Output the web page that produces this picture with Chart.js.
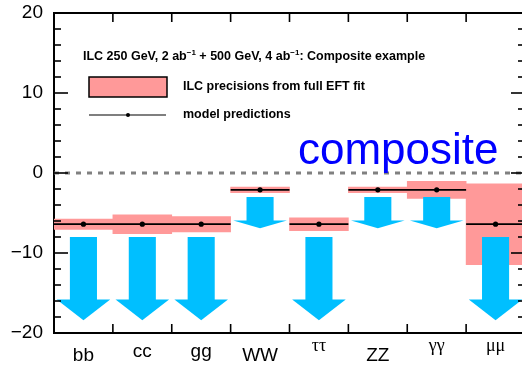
<!DOCTYPE html>
<html>
<head>
<meta charset="utf-8">
<title>ILC Higgs couplings – composite example</title>
<style>
  html, body { margin: 0; padding: 0; overflow: hidden; background: #ffffff; }
  #frame { width: 530px; height: 365px; }
</style>
<script src="https://cdn.jsdelivr.net/npm/chart.js"></script>
</head>
<body>
<div id="frame"><canvas id="chart" width="530" height="365"></canvas></div>
<script>
// Higgs decay channels along the horizontal axis
const categories = ['bb', 'cc', 'gg', 'WW', 'ττ', 'ZZ', 'γγ', 'μμ'];
// model predictions for the coupling deviation (%)
const modelPrediction = [-6.4, -6.4, -6.4, -2.1, -6.4, -2.1, -2.1, -6.4];
// ILC precision from the full EFT fit (half-height of each band, %)
const ilcPrecision = [0.65, 1.18, 0.95, 0.35, 0.8, 0.35, 1.07, 5.05];
// downward arrows: start value and tip value (%)
const arrowStart = [-8, -8, -8, -3, -8, -3, -3, -8];
const arrowTip = [-18.4, -18.4, -18.4, -6.9, -18.4, -6.9, -6.9, -18.4];
// vertical axis range and labelled tick step
const yMin = -20, yMax = 20, yStep = 10;
// header (text, superscript?), legend entries and tag
const headerParts = [
  ['ILC 250 GeV, 2 ab', false], ['\u22121', true],
  [' + 500 GeV, 4 ab', false], ['\u22121', true],
  [': Composite example', false]
];
const legendLabels = ['ILC precisions from full EFT fit', 'model predictions'];
const tagText = 'composite';

// ---- styling ----
const SANS = "'Liberation Sans', Arial, Helvetica, sans-serif";
const SERIF = "'Liberation Serif', 'Times New Roman', serif";
const BAND = '#ff9999';
const ARROW = '#00bfff';
const SHAFT_HALF = 0.23;   // arrow shaft half-width, in category units
const HEAD_HALF = 0.455;   // arrow head half-width, in category units
const HEAD_FRACTION = 0.25;

// ---- datasets built from the arrays above ----
const bandData = modelPrediction.map((v, i) => [v - ilcPrecision[i], v + ilcPrecision[i]]);

const predictionSegments = [];
modelPrediction.forEach((v, i) => {
  predictionSegments.push({x: i, y: v}, {x: i + 1, y: v}, {x: i + 1, y: null});
});
const predictionDots = modelPrediction.map((v, i) => ({x: i + 0.5, y: v}));

const arrowPolygons = [];
arrowStart.forEach((s, i) => {
  const t = arrowTip[i];
  if (s == null || t == null) return;
  const c = i + 0.5;
  const h = s + (t - s) * (1 - HEAD_FRACTION);
  const hs = h + (t - h) * 0.3;
  // shaft
  arrowPolygons.push({x: c - SHAFT_HALF, y: s}, {x: c - SHAFT_HALF, y: hs},
                     {x: c + SHAFT_HALF, y: hs}, {x: c + SHAFT_HALF, y: s}, {x: c, y: null});
  // head
  arrowPolygons.push({x: c - HEAD_HALF, y: h}, {x: c, y: t}, {x: c + HEAD_HALF, y: h}, {x: c, y: null});
});

const zeroLine = [{x: 0, y: 0}, {x: categories.length, y: 0}];

// category label fonts: Greek letters in a serif face, each label lifted by its ink box
function categoryFont(ctx) {
  const lab = categories[ctx.index] || '';
  if (/[\u03b1-\u03c9]/.test(lab)) return {family: SERIF, size: 18, lineHeight: '3px'};
  if (!/[A-Zbdfhklt]/.test(lab)) return {family: SANS, size: 19, lineHeight: '13px'};
  return {family: SANS, size: 19, lineHeight: '21px'};
}

// header, legend and tag drawn inside the frame
const annotations = {
  id: 'annotations',
  afterDatasetsDraw(chart) {
    const ctx = chart.ctx;
    ctx.save();
    ctx.fillStyle = '#000';
    ctx.textAlign = 'left';
    ctx.textBaseline = 'middle';
    let x = 83;
    const y = 57;
    headerParts.forEach(([t, sup]) => {
      ctx.font = sup ? `bold 8px ${SANS}` : `bold 12.5px ${SANS}`;
      ctx.fillText(t, x, sup ? y - 4 : y);
      x += ctx.measureText(t).width;
    });

    // legend swatch for the precision band
    ctx.fillStyle = BAND;
    ctx.fillRect(89, 77, 78, 20);
    ctx.strokeStyle = '#000';
    ctx.lineWidth = 1.5;
    ctx.strokeRect(89, 77, 78, 20);
    // legend marker for the predictions
    ctx.lineWidth = 1.2;
    ctx.beginPath();
    ctx.moveTo(89, 115);
    ctx.lineTo(166, 115);
    ctx.stroke();
    ctx.fillStyle = '#000';
    ctx.beginPath();
    ctx.arc(128, 115, 2, 0, Math.PI * 2);
    ctx.fill();

    ctx.font = `bold 12.5px ${SANS}`;
    ctx.fillText(legendLabels[0], 183, 87);
    ctx.fillText(legendLabels[1], 183, 115);

    ctx.font = `44px ${SANS}`;
    ctx.fillStyle = '#0000ff';
    ctx.textBaseline = 'alphabetic';
    ctx.fillText(tagText, 298, 164);
    ctx.restore();
  }
};

// frame closing lines and inward tick marks on all four sides
const frameTicks = {
  id: 'frameTicks',
  afterDraw(chart) {
    const {ctx, chartArea: a, scales} = chart;
    const ys = scales.y, xs = scales.xl;
    ctx.save();
    ctx.strokeStyle = '#000';
    const seg = (x1, y1, x2, y2) => { ctx.beginPath(); ctx.moveTo(x1, y1); ctx.lineTo(x2, y2); ctx.stroke(); };
    ctx.lineWidth = 2;
    seg(a.left - 1, a.top, a.right + 1, a.top);
    seg(a.right, a.top, a.right, a.bottom);
    ctx.lineWidth = 1.6;
    for (let v = yMin + 2; v < yMax; v += 2) {
      const p = ys.getPixelForValue(v);
      const len = v % yStep === 0 ? 14 : 7;
      seg(a.left, p, a.left + len, p);
      seg(a.right, p, a.right - len, p);
    }
    for (let i = 1; i < categories.length; i++) {
      const p = xs.getPixelForValue(i);
      seg(p, a.bottom, p, a.bottom - 9);
      seg(p, a.top, p, a.top + 9);
    }
    ctx.restore();
  }
};

new Chart(document.getElementById('chart'), {
  type: 'bar',
  data: {
    labels: categories,
    datasets: [
      {
        type: 'bar', label: legendLabels[0], data: bandData, xAxisID: 'x', yAxisID: 'y',
        backgroundColor: BAND, borderWidth: 0, barPercentage: 1, categoryPercentage: 1,
        grouped: false, order: 5
      },
      {
        type: 'line', label: 'zero', data: zeroLine, xAxisID: 'xl', yAxisID: 'y',
        borderColor: '#808080', borderWidth: 3, borderDash: [5, 6], pointRadius: 0, fill: false, order: 4
      },
      {
        type: 'line', label: 'arrows', data: arrowPolygons, xAxisID: 'xl', yAxisID: 'y',
        fill: 'shape', backgroundColor: ARROW, borderColor: 'rgba(0,0,0,0)', borderWidth: 0,
        pointRadius: 0, spanGaps: false, tension: 0, order: 3
      },
      {
        type: 'line', label: legendLabels[1], data: predictionSegments, xAxisID: 'xl', yAxisID: 'y',
        borderColor: '#000', borderWidth: 1.8, pointRadius: 0, spanGaps: false, fill: false, order: 2
      },
      {
        type: 'line', label: 'prediction points', data: predictionDots, xAxisID: 'xl', yAxisID: 'y',
        showLine: false, pointRadius: 2.6, pointBackgroundColor: '#000', pointBorderWidth: 0, order: 1
      }
    ]
  },
  options: {
    responsive: false,
    animation: false,
    devicePixelRatio: 1,
    events: [],
    layout: {padding: {top: 13, right: 5, left: 0, bottom: 0}},
    plugins: {legend: {display: false}, tooltip: {enabled: false}},
    scales: {
      x: {
        type: 'category', offset: true, z: 1,
        grid: {display: false, drawTicks: false},
        border: {display: true, color: '#000', width: 2},
        ticks: {color: '#000', padding: 12, font: categoryFont, maxRotation: 0, autoSkip: false},
        afterFit: s => { s.height = 32; s.paddingLeft = 0; s.paddingRight = 0; }
      },
      xl: {type: 'linear', display: false, offset: false, min: 0, max: categories.length,
           grid: {offset: false}},
      y: {
        min: yMin, max: yMax, z: 1,
        grid: {display: false, drawTicks: false},
        border: {display: true, color: '#000', width: 2},
        ticks: {
          stepSize: yStep, color: '#000', padding: 11,
          font: {family: SANS, size: 19},
          callback: v => String(v).replace('-', '\u2212')
        },
        afterFit: s => { s.width = 54; s.paddingTop = 0; s.paddingBottom = 0; }
      }
    }
  },
  plugins: [annotations, frameTicks]
});
</script>
</body>
</html>
